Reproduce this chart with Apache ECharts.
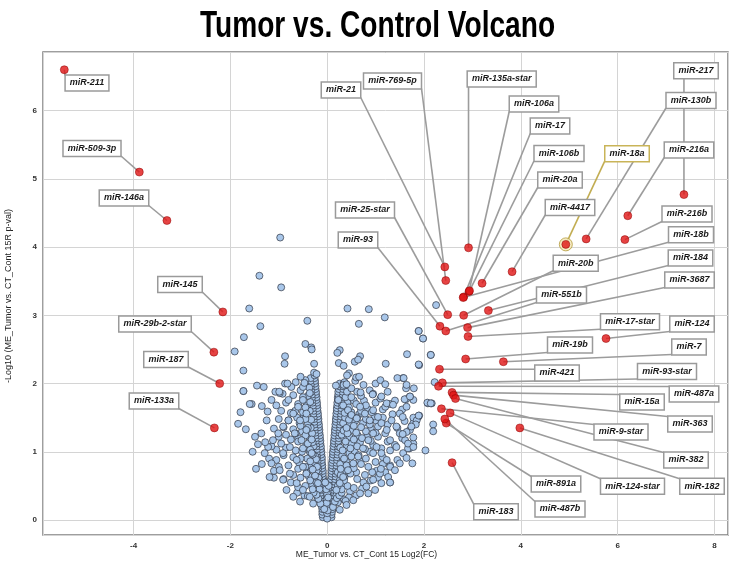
<!DOCTYPE html>
<html><head><meta charset="utf-8">
<script src="https://cdn.jsdelivr.net/npm/echarts@6/dist/echarts.min.js"></script>
<style>html,body{margin:0;padding:0;background:#fff}#c{width:733px;height:563px}</style>
</head><body><div id="c"></div>
<script>
// ---------- DATA ----------
const titleText = 'Tumor vs. Control Volcano';
const xAxisName = 'ME_Tumor vs. CT_Cont 15 Log2(FC)';
const yAxisName = '-Log10 (ME_Tumor vs. CT_Cont 15R p-val)';
const xTickLabels = [-4, -2, 0, 2, 4, 6, 8];
const yTickLabels = [0, 1, 2, 3, 4, 5, 6];

const sigNames = ['miR-211','miR-509-3p','miR-146a','miR-145','miR-29b-2-star','miR-187','miR-133a',
 'miR-21','miR-769-5p','miR-135a-star','miR-106a','miR-17','miR-106b','miR-20a','miR-4417','miR-18a',
 'miR-217','miR-130b','miR-216a','miR-216b','miR-18b','miR-25-star','miR-93','miR-20b','miR-184',
 'miR-551b','miR-3687','miR-17-star','miR-124','miR-19b','miR-7','miR-421','miR-93-star','miR-487a',
 'miR-15a','miR-363','miR-9-star','miR-382','miR-891a','miR-124-star','miR-182','miR-487b','miR-183'];
const sigLog2FC = [-5.43,-3.88,-3.31,-2.155,-2.34,-2.22,-2.33,
 2.43,2.45,2.92,2.93,2.82,2.94,3.20,3.82,4.93,
 7.37,5.35,6.21,6.15,2.81,2.49,2.33,2.82,3.33,
 2.45,2.90,2.91,5.76,2.86,3.64,2.32,2.38,2.30,
 2.58,2.61,2.36,2.65,2.46,2.54,3.98,2.43,2.58];
const sigNegLogP = [6.60,5.10,4.39,3.05,2.46,2.00,1.35,
 3.71,3.51,3.99,3.35,3.27,3.36,3.47,3.64,4.04,
 4.77,4.12,4.46,4.11,3.26,3.01,2.84,3.00,3.07,
 2.77,2.82,2.69,2.66,2.36,2.32,2.21,2.01,1.96,
 1.87,1.83,1.63,1.78,1.42,1.57,1.35,1.48,0.84];
const highlightedName = 'miR-18a';

const bgPoints = [
 // core arms
 [-0.02,0.04],[-0.09,0.04],[0.03,0.04],[0.09,0.04],[-0.03,0.08],[-0.1,0.08],[0.03,0.08],[0.09,0.08],
 [-0.03,0.12],[-0.1,0.12],[0.04,0.12],[0.1,0.12],[-0.04,0.16],[-0.1,0.16],[0.03,0.16],[0.11,0.16],
 [-0.04,0.2],[-0.11,0.2],[0.04,0.2],[0.11,0.2],[-0.05,0.24],[-0.11,0.24],[0.04,0.24],[0.12,0.24],
 [-0.05,0.28],[-0.12,0.28],[0.05,0.28],[0.12,0.28],[-0.06,0.32],[-0.12,0.32],[0.05,0.32],[0.13,0.32],
 [-0.05,0.36],[-0.13,0.36],[0.06,0.36],[0.13,0.36],[-0.06,0.4],[-0.13,0.4],[0.06,0.4],[0.14,0.4],
 [-0.07,0.44],[-0.14,0.44],[0.06,0.44],[0.14,0.44],[-0.07,0.48],[-0.14,0.48],[0.07,0.48],[0.15,0.48],
 [-0.07,0.52],[-0.15,0.52],[0.07,0.52],[0.15,0.52],[-0.08,0.56],[-0.15,0.56],[0.08,0.56],[0.16,0.56],
 [-0.08,0.6],[-0.16,0.6],[0.08,0.6],[0.16,0.6],[-0.09,0.64],[-0.16,0.64],[0.09,0.64],[0.17,0.64],
 [-0.09,0.68],[-0.17,0.68],[0.09,0.68],[0.17,0.68],[-0.09,0.72],[-0.17,0.72],[0.09,0.72],[0.18,0.72],
 [-0.1,0.76],[-0.18,0.76],[0.1,0.76],[0.18,0.76],[-0.1,0.8],[-0.18,0.8],[0.1,0.8],[0.19,0.8],
 [-0.11,0.84],[-0.19,0.84],[0.1,0.84],[0.19,0.84],[-0.11,0.88],[-0.19,0.88],[0.11,0.88],[0.2,0.88],
 [-0.11,0.92],[-0.2,0.92],[0.11,0.92],[0.2,0.92],[-0.12,0.96],[-0.2,0.96],[0.12,0.96],[0.21,0.96],
 [-0.12,1.0],[-0.21,1.0],[0.12,1.0],[0.21,1.0],[-0.13,1.04],[-0.21,1.04],[0.13,1.04],[0.22,1.04],
 [-0.13,1.08],[-0.22,1.08],[0.13,1.08],[0.22,1.08],[-0.14,1.12],[-0.22,1.12],[0.14,1.12],[0.23,1.12],
 [-0.14,1.16],[-0.23,1.16],[0.14,1.16],[0.23,1.16],[-0.15,1.2],[-0.23,1.2],[0.15,1.2],[0.24,1.2],
 [-0.15,1.24],[-0.24,1.24],[0.15,1.24],[0.24,1.24],[-0.16,1.28],[-0.24,1.28],[0.16,1.28],[0.25,1.28],
 [-0.16,1.32],[-0.25,1.32],[0.16,1.32],[0.25,1.32],[-0.17,1.36],[-0.25,1.36],[0.17,1.36],[0.26,1.36],
 [-0.17,1.4],[-0.26,1.4],[0.17,1.4],[0.26,1.4],[-0.18,1.44],[-0.26,1.44],[0.18,1.44],[0.27,1.44],
 [-0.18,1.48],[-0.27,1.48],[0.18,1.48],[0.27,1.48],[-0.19,1.52],[-0.27,1.52],[0.19,1.52],[0.28,1.52],
 [-0.19,1.56],[-0.28,1.56],[0.19,1.56],[0.28,1.56],[-0.2,1.6],[-0.28,1.6],[0.2,1.6],[0.29,1.6],
 [-0.2,1.64],[-0.29,1.64],[0.2,1.64],[0.29,1.64],[-0.21,1.68],[-0.29,1.68],[0.21,1.68],[0.3,1.68],
 [-0.21,1.72],[-0.3,1.72],[0.21,1.72],[0.3,1.72],[-0.22,1.76],[-0.3,1.76],[0.22,1.76],[0.31,1.76],
 [-0.22,1.8],[-0.31,1.8],[0.22,1.8],[0.31,1.8],[-0.23,1.84],[-0.31,1.84],[0.23,1.84],[0.32,1.84],
 [-0.23,1.88],[-0.32,1.88],[0.23,1.88],[0.32,1.88],[-0.24,1.92],[-0.32,1.92],[0.24,1.92],[0.33,1.92],
 [-0.24,1.96],[-0.33,1.96],[0.25,1.96],[0.33,1.96],[-0.25,2.0],[-0.33,2.0],[0.26,2.0],[0.34,2.0],
 [-0.25,2.04],[-0.34,2.04],[-0.26,2.08],[-0.34,2.08],[-0.26,2.12],[-0.27,2.16],
 [0.0,0.02],[0.0,0.1],[0.01,0.2],[-0.01,0.3],[0.0,0.38],[0.01,0.14],[-0.01,0.25],
 [-0.02,0.45],[0.03,0.5],[-0.04,0.55],[0.02,0.33],[-0.06,0.16],
 // dense inner cloud
 [-0.24,0.42],[-0.31,0.51],[-0.27,0.6],[-0.38,0.64],[-0.22,0.72],[-0.33,0.79],[-0.26,0.84],[-0.41,0.9],[-0.24,0.93],[-0.36,1.0],
 [-0.28,1.08],[-0.44,1.08],[-0.3,1.14],[-0.38,1.22],[-0.31,1.27],[-0.52,1.3],[-0.34,1.35],[-0.4,1.42],[-0.33,1.47],[-0.48,1.53],
 [-0.36,1.6],[-0.42,1.68],[-0.35,1.73],[-0.4,1.82],[-0.37,1.94],[-0.45,2.05],[-0.58,0.84],[-0.52,1.0],[-0.6,1.2],[-0.57,1.42],
 [-0.66,1.6],[-0.55,1.9],[-0.7,0.66],[-0.62,0.4],[-0.47,0.36],[-0.2,0.3],[-0.16,0.45],[-0.18,0.62],[-0.21,0.78],[-0.23,0.89],
 [0.19,0.36],[0.24,0.42],[0.31,0.5],[0.26,0.58],[0.36,0.63],[0.22,0.7],[0.34,0.72],[0.44,0.77],[0.27,0.82],[0.39,0.86],
 [0.31,0.94],[0.46,0.98],[0.27,1.06],[0.41,1.09],[0.35,1.2],[0.5,1.12],[0.3,1.25],[0.46,1.22],[0.34,1.31],[0.52,1.32],
 [0.33,1.42],[0.47,1.4],[0.37,1.5],[0.58,1.45],[0.36,1.57],[0.42,1.72],[0.38,1.8],[0.55,1.75],[0.41,1.88],[0.62,1.88],
 [0.36,2.02],[0.58,2.04],[0.6,0.7],[0.68,0.86],[0.57,1.0],[0.68,1.14],[0.63,1.24],[0.74,1.42],[0.66,1.55],[0.85,1.62],
 [0.78,0.66],[0.72,0.46],[0.6,0.36],[0.47,0.42],[0.35,0.3],[0.22,0.26],[0.88,1.0],[0.82,1.22],[0.9,1.35],[1.02,1.45],
 [0.76,1.75],[0.88,1.9],[1.15,1.62],[1.3,1.7],[1.25,1.88],[1.02,0.72],[1.15,0.82],[0.93,0.7],
 // spread bands
 [0.12,0.19],[-0.14,0.24],[0.16,0.27],[-0.18,0.31],[0.2,0.32],[-0.22,0.37],[0.25,0.36],[0.3,0.4],[-0.28,0.4],[0.45,0.33],[-0.4,0.35],[0.38,0.28],
 [-0.3,0.45],[-0.45,0.5],[-0.6,0.48],[-0.35,0.58],[-0.55,0.62],[-0.75,0.55],[-0.9,0.6],[-0.25,0.65],[-0.42,0.7],[0.3,0.45],[0.42,0.5],[0.55,0.47],[0.35,0.58],[0.62,0.6],[0.75,0.55],[0.9,0.58],[1.05,0.62],[0.48,0.68],[0.28,0.66],[-1.1,0.62],[1.3,0.55],[0.22,0.5],[-0.22,0.55],
 [-0.3,0.74],[-0.45,0.78],[-0.6,0.75],[-0.8,0.8],[-1.0,0.78],[-0.35,0.86],[-0.55,0.9],[-0.7,0.92],[-0.9,0.95],[-1.2,0.9],[-0.3,0.96],[0.28,0.75],[0.4,0.8],[0.55,0.76],[0.7,0.82],[0.85,0.78],[1.0,0.85],[0.35,0.9],[0.5,0.93],[0.65,0.95],[0.8,0.9],[1.15,0.92],[0.95,0.98],[1.3,0.8],[1.45,0.88],[-1.35,0.82],[-1.1,0.72],[1.2,0.7],
 [-0.35,1.03],[-0.5,1.05],[-0.65,1.02],[-0.85,1.06],[-1.05,1.03],[-0.4,1.12],[-0.6,1.15],[-0.75,1.18],[-0.95,1.12],[-1.15,1.08],[-0.45,1.24],[-0.65,1.27],[-0.85,1.25],[-1.0,1.22],[-0.32,1.18],[0.32,1.02],[0.48,1.05],[0.62,1.08],[0.78,1.04],[0.95,1.1],[1.12,1.05],[1.3,1.02],[0.38,1.15],[0.55,1.18],[0.72,1.2],[0.9,1.16],[1.05,1.22],[1.25,1.15],[1.4,1.1],[0.42,1.27],[0.6,1.28],[0.8,1.3],[1.0,1.28],[1.2,1.27],[1.55,1.2],[1.7,1.05],
 [-0.4,1.35],[-0.55,1.38],[-0.7,1.33],[-0.9,1.36],[-1.1,1.34],[-0.45,1.48],[-0.62,1.5],[-0.8,1.46],[-1.0,1.48],[-0.5,1.58],[-0.75,1.57],[-0.95,1.6],[0.4,1.35],[0.55,1.38],[0.7,1.36],[0.88,1.4],[1.05,1.37],[1.25,1.4],[1.45,1.35],[0.45,1.47],[0.62,1.5],[0.8,1.48],[0.98,1.52],[1.15,1.5],[1.35,1.55],[0.5,1.58],[0.7,1.6],[0.92,1.58],[1.6,1.45],[1.75,1.38],
 [-0.45,1.65],[-0.6,1.7],[-0.85,1.72],[-1.05,1.68],[-0.5,1.8],[-0.7,1.83],[-0.92,1.85],[0.45,1.65],[0.6,1.7],[0.8,1.68],[1.0,1.72],[1.2,1.66],[0.5,1.8],[0.7,1.82],[0.95,1.85],[1.1,1.78],[1.4,1.75],[1.55,1.62],
 [-0.5,1.95],[-0.65,2.02],[0.5,1.93],[0.75,1.98],[1.0,2.0],[1.1,2.05],[-0.55,2.1],[0.45,2.15],
 // right cloud
 [0.23,1.76],[0.33,1.68],[0.43,1.61],[0.5,1.54],[0.61,1.49],[0.68,1.66],[0.78,1.56],[0.88,1.46],[0.95,1.61],[1.05,1.51],[1.12,1.42],[1.23,1.32],[1.33,1.46],[1.43,1.37],[1.5,1.27],[1.61,1.17],[1.71,1.32],[1.78,1.42],[1.88,1.51],
 [0.95,1.27],[0.85,1.17],[0.74,1.05],[0.64,0.93],[0.54,0.83],[0.43,0.73],[0.33,0.63],[0.26,0.54],[0.19,0.44],[1.02,1.07],[1.12,0.98],[1.23,0.88],[1.3,0.78],[1.09,0.68],[0.95,0.59],[0.81,0.49],[0.68,0.39],[0.54,0.29],[0.4,0.22],[0.26,0.15],
 [0.85,0.39],[0.99,0.44],[1.12,0.54],[1.26,0.63],[1.4,0.73],[1.5,0.83],[1.57,0.98],[1.43,1.07],[1.3,1.17],[1.67,1.05],[1.78,1.12],[1.23,1.71],[1.12,1.81],[1.5,1.56],[1.64,1.66],[1.78,1.76],
 [2.25,3.15],[1.89,2.77],[1.98,2.66],[2.14,2.42],[1.9,2.27],[1.57,2.08],[2.22,2.02],[1.63,1.93],[1.79,1.93],[1.71,1.81],[1.63,1.77],[2.08,1.71],[2.16,1.71],[1.9,1.53],[1.78,1.5],[1.56,1.51],[1.85,1.46],[1.83,1.4],[2.19,1.4],[2.19,1.3],[1.74,1.37],[1.64,1.29],[1.56,1.26],[1.78,1.21],[1.67,1.12],[1.78,1.07],[2.03,1.02],[1.64,0.91],[1.76,0.83],[1.3,0.55],[1.11,0.75],
 // left cloud
 [-0.36,1.86],[-0.5,1.76],[-0.6,1.66],[-0.7,1.56],[-0.8,1.46],[-0.91,1.37],[-1.01,1.27],[-1.12,1.17],[-1.22,1.07],[-0.56,1.46],[-0.43,1.56],[-0.67,1.27],[-0.53,1.17],[-0.77,1.07],[-0.91,0.98],[-1.05,0.88],[-0.63,0.88],[-0.5,0.78],[-0.77,0.68],[-0.91,0.59],[-0.63,0.54],[-0.5,0.44],[-0.36,0.34],[-0.29,0.24],[-0.84,0.44],[-0.7,0.34],[-0.56,0.27],[-0.98,0.73],[-1.15,0.83],[-1.29,0.98],[-1.36,1.27],[-1.25,1.46],[-1.15,1.76],[-0.98,1.86],[-0.8,1.76],[-0.74,1.95],[-0.43,1.32],[-0.32,0.98],[-0.43,0.68],[-0.19,0.54],
 // outliers
 [-0.97,4.14],[-1.4,3.58],[-0.95,3.41],[-1.61,3.1],[-1.38,2.84],[-0.41,2.92],[-1.72,2.68],[-1.91,2.47],[-1.73,2.19],[-0.45,2.58],[-0.33,2.53],[-0.32,2.5],[-0.87,2.4],[-0.88,2.29],[-0.27,2.29],[-0.22,2.14],
 [0.42,3.1],[0.86,3.09],[1.19,2.97],[0.655,2.875],[1.89,2.77],[1.98,2.66],[0.26,2.49],[0.21,2.45],[0.68,2.4],[0.57,2.32],[0.64,2.35],[0.24,2.3],[0.34,2.26],[1.21,2.29],[1.65,2.43],[1.89,2.28],[2.14,2.42],
 [0.41,2.12],[0.6,2.09],[0.66,2.1],[0.18,1.97],[0.34,1.98],[0.4,1.99],[0.69,1.87],[0.94,1.84],[1.2,1.99],[1.45,2.08],[1.58,2.08],[1.64,1.98],[1.36,1.69],[1.6,1.77],[1.71,1.81],[2.07,1.72],[2.14,1.71],[1.89,1.53],
 [-1.45,1.97],[-1.31,1.95],[-1.73,1.89],[-1.07,1.88],[-0.99,1.88],[-0.87,2.0],[-0.82,2.0],[-0.47,2.01],[-1.56,1.7],[-1.35,1.67],[-1.23,1.59],[-1.79,1.58],[-1.84,1.41],[-1.68,1.33],[-1.49,1.22],[-1.43,1.11],[-1.54,1.0],[-1.28,1.14],[-1.47,0.75],[-1.19,0.63],[-1.6,1.7],[-1.73,1.89]
];

// ---------- LAYOUT (label box centres, pixels) ----------
const labelCenter = {
 'miR-211':[87,83],'miR-509-3p':[92,148.5],'miR-146a':[124,198],'miR-145':[180,284.5],
 'miR-29b-2-star':[155,324],'miR-187':[166,359.5],'miR-133a':[154,401],
 'miR-21':[341,90],'miR-769-5p':[392.5,81],'miR-135a-star':[501.7,79],'miR-106a':[534,104],
 'miR-17':[550,126],'miR-106b':[559,153.5],'miR-20a':[560,180],'miR-4417':[570,207.5],
 'miR-18a':[627,153.7],'miR-217':[696,70.7],'miR-130b':[691,100.5],'miR-216a':[689,150],
 'miR-216b':[687,214],'miR-18b':[691,234.7],'miR-25-star':[365,210],'miR-93':[358,240],
 'miR-20b':[575.7,263.3],'miR-184':[690.5,258],'miR-551b':[561.5,295],'miR-3687':[689.5,280],
 'miR-17-star':[630,321.7],'miR-124':[692,324],'miR-19b':[570,345],'miR-7':[689,347],
 'miR-421':[557,373],'miR-93-star':[667,371.5],'miR-487a':[694,394],'miR-15a':[642,402],
 'miR-363':[690,424],'miR-9-star':[621,432],'miR-382':[686,460],'miR-891a':[556,484],
 'miR-124-star':[632.5,486.3],'miR-182':[702,486.3],'miR-487b':[560,509],'miR-183':[496,511.7]
};

const LABEL_FONT = 'italic bold 9px "Liberation Sans", Arial, sans-serif';
const PAD_X = 4, PAD_Y = 2, BOX_H = 15;
const mctx = document.createElement('canvas').getContext('2d');
mctx.font = LABEL_FONT;
function boxOf(name) {
  const c = labelCenter[name];
  const w = mctx.measureText(name).width + 2 * PAD_X + 1.5;
  return [c[0] - w / 2, c[1] - BOX_H / 2, c[0] + w / 2, c[1] + BOX_H / 2];
}

const sigData = sigNames.map((n, i) => ({ name: n, value: [sigLog2FC[i], sigNegLogP[i], i] }));
const hiIdx = sigNames.indexOf(highlightedName);

const chart = echarts.init(document.getElementById('c'), null, { renderer: 'canvas' });
chart.setOption({
  animation: false,
  backgroundColor: '#fff',
  graphic: [
    { type: 'text', x: 377.5, y: 27, scaleX: 0.76, z: 10,
      style: { text: titleText, font: 'bold 37px "Liberation Sans", Arial, sans-serif', fill: '#000', align: 'center', verticalAlign: 'middle', textAlign: 'center', textVerticalAlign: 'middle' } },
    { type: 'text', x: 366.5, y: 555, z: 10,
      style: { text: xAxisName, font: '8.5px "Liberation Sans", Arial, sans-serif', fill: '#222', align: 'center', verticalAlign: 'middle', textAlign: 'center', textVerticalAlign: 'middle' } },
    { type: 'text', x: 9, y: 296, rotation: Math.PI / 2, z: 10,
      style: { text: yAxisName, font: '9px "Liberation Sans", Arial, sans-serif', fill: '#222', align: 'center', verticalAlign: 'middle', textAlign: 'center', textVerticalAlign: 'middle' } }
  ],
  grid: { left: 43, right: 5, top: 52, bottom: 28, show: true, borderColor: '#7f7f7f', borderWidth: 1.5, backgroundColor: '#fff' },
  xAxis: {
    type: 'value', min: -5.87, max: 8.28, splitNumber: 7, minInterval: 2, maxInterval: 2,
    axisLine: { show: false }, axisTick: { show: false },
    splitLine: { show: true, lineStyle: { color: '#d4d4d4', width: 1 } },
    axisLabel: { margin: 7, fontSize: 8, fontWeight: 'bold', color: '#333', fontFamily: 'Liberation Sans, Arial, sans-serif',
      formatter: v => xTickLabels.indexOf(Math.round(v * 1000) / 1000) >= 0 ? String(Math.round(v)) : '' }
  },
  yAxis: {
    type: 'value', min: -0.22, max: 6.86, splitNumber: 7, minInterval: 1, maxInterval: 1,
    axisLine: { show: false }, axisTick: { show: false },
    splitLine: { show: true, lineStyle: { color: '#d4d4d4', width: 1 } },
    axisLabel: { margin: 6, fontSize: 8, fontWeight: 'bold', color: '#333', fontFamily: 'Liberation Sans, Arial, sans-serif',
      formatter: v => yTickLabels.indexOf(Math.round(v * 1000) / 1000) >= 0 ? String(Math.round(v)) : '' }
  },
  series: [
    { type: 'scatter', name: 'bg', data: bgPoints, symbolSize: 7, z: 2, silent: true,
      itemStyle: { color: '#a9c7ea', borderColor: '#2e3440', borderWidth: 0.7, opacity: 1 } },
    { type: 'custom', name: 'leaders', z: 3, silent: true, data: sigData, encode: { x: 0, y: 1 },
      renderItem: (params, api) => {
        const i = api.value(2); const name = sigNames[i];
        const p = api.coord([api.value(0), api.value(1)]);
        const b = boxOf(name);
        const ex = Math.min(Math.max(p[0], b[0]), b[2]);
        const ey = Math.min(Math.max(p[1], b[1]), b[3]);
        return { type: 'line', shape: { x1: p[0], y1: p[1], x2: ex, y2: ey },
          style: { stroke: name === highlightedName ? '#c2ad52' : '#9c9c9c', lineWidth: 1.6 } };
      } },
    { type: 'scatter', name: 'ring', z: 4, silent: true, symbolSize: 13,
      data: [[sigLog2FC[hiIdx], sigNegLogP[hiIdx]]],
      itemStyle: { color: '#f4e7b4', borderColor: '#b39a3c', borderWidth: 1 } },
    { type: 'scatter', name: 'sig', z: 5, silent: true, symbolSize: 8, data: sigData,
      itemStyle: { color: '#e01414', borderColor: '#8a0000', borderWidth: 0.6 } },
    { type: 'custom', name: 'labels', z: 6, silent: true, data: sigData, encode: { x: 0, y: 1 },
      renderItem: (params, api) => {
        const i = api.value(2); const name = sigNames[i];
        const c = labelCenter[name];
        return { type: 'text', x: c[0], y: c[1],
          style: { text: name, font: LABEL_FONT, fill: '#1a1a1a', align: 'center', verticalAlign: 'middle',
            textAlign: 'center', textVerticalAlign: 'middle', backgroundColor: '#fff',
            borderColor: name === highlightedName ? '#c9b458' : '#9a9a9a', borderWidth: 1.5,
            padding: [PAD_Y + 0.5, PAD_X, PAD_Y, PAD_X], lineHeight: 10 } };
      } }
  ]
});
</script></body></html>
